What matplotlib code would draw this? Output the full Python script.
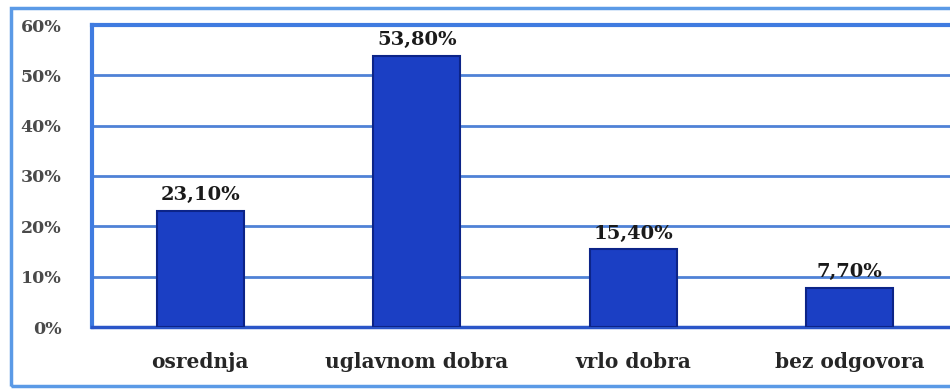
import matplotlib
matplotlib.use("Agg")
import matplotlib.pyplot as plt
from matplotlib.patches import Rectangle

categories = ["osrednja", "uglavnom dobra", "vrlo dobra", "bez odgovora"]
values = [23.10, 53.80, 15.40, 7.70]
value_labels = ["23,10%", "53,80%", "15,40%", "7,70%"]
y_ticks = [0, 10, 20, 30, 40, 50, 60]
y_tick_labels = ["0%", "10%", "20%", "30%", "40%", "50%", "60%"]

W, H = 950, 390
fig = plt.figure(figsize=(W / 100, H / 100), dpi=100)
fig.patch.set_facecolor("white")

# outer chart frame
fig.patches.append(Rectangle((11 / W, 1 - 386 / H), 1.2, (386 - 8) / H,
                             transform=fig.transFigure, fill=False,
                             edgecolor="#5b9ae6", linewidth=2.5, zorder=0))

left, right, top, bottom = 92, 958, 25, 327
ax = fig.add_axes([left / W, 1 - bottom / H, (right - left) / W, (bottom - top) / H])
ax.set_facecolor("white")

x = list(range(len(categories)))
ax.bar(x, values, width=0.4, color="#1b3fc4", edgecolor="#0c2488",
       linewidth=1.5, zorder=3)

for xi, v, lab in zip(x, values, value_labels):
    ax.annotate(lab, (xi, v), xytext=(0, 5), textcoords="offset points",
                ha="center", va="bottom", fontsize=14, fontweight="bold",
                family="DejaVu Serif", color="#1a1a1a", zorder=4)

ax.set_xlim(-0.5, 3.5)
ax.set_ylim(0, 60)
ax.set_yticks(y_ticks)
ax.set_yticklabels(y_tick_labels, family="DejaVu Serif", fontsize=12.5,
                   fontweight="bold", color="#4a4a4a")
ax.set_xticks(x)
ax.set_xticklabels(categories, family="DejaVu Serif", fontsize=14.5,
                   fontweight="bold", color="#262626")
ax.tick_params(axis="y", length=0, pad=22)
ax.tick_params(axis="x", length=0, pad=18)

ax.grid(axis="y", color="#4f82d6", linewidth=2, zorder=1)
ax.set_axisbelow(True)
for side in ["left", "top"]:
    ax.spines[side].set_color("#3f7be0")
    ax.spines[side].set_linewidth(3)
ax.spines["bottom"].set_color("#2a55c8")
ax.spines["bottom"].set_linewidth(2.5)
ax.spines["right"].set_visible(False)

fig.savefig("out.png", dpi=100, facecolor="white")
